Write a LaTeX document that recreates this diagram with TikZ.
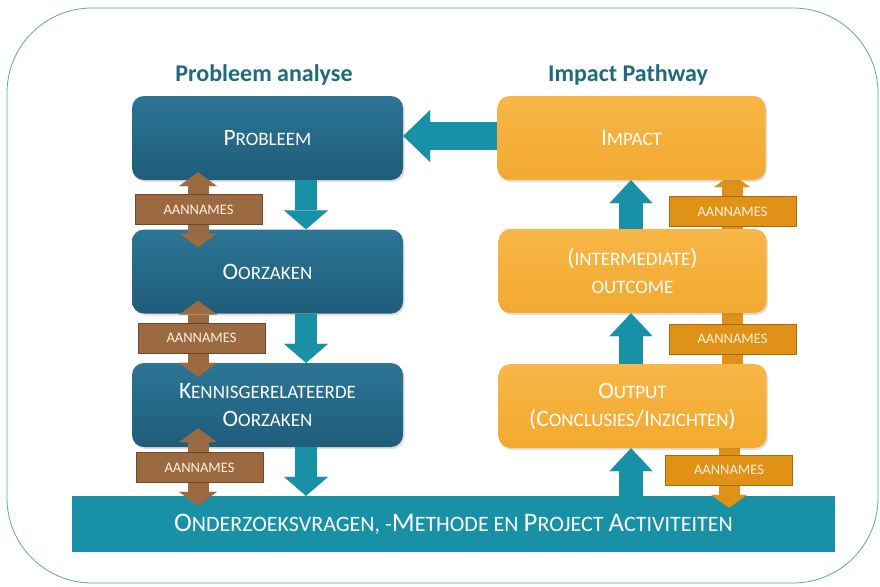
\documentclass[tikz,border=0pt]{standalone}
\usepackage{fontspec}
\setmainfont{Carlito}
\usetikzlibrary{arrows.meta,shadows,calc}
\definecolor{frameC}{HTML}{5BA99B}
\definecolor{titleC}{HTML}{1F6B7B}
\definecolor{blueTop}{HTML}{2C7596}
\definecolor{blueBot}{HTML}{1F5C7A}
\definecolor{orTop}{HTML}{F7B646}
\definecolor{orBot}{HTML}{F2AA30}
\definecolor{tealC}{HTML}{1890A5}
\definecolor{brownC}{HTML}{9B6A41}
\definecolor{brownD}{HTML}{6E4A2A}
\definecolor{orDark}{HTML}{DF9216}
\definecolor{orDarkD}{HTML}{A86A0C}
\definecolor{creamC}{HTML}{FFF1DD}
\newcommand\BL[1]{{\fontsize{23.5}{28}\selectfont #1}}
\newcommand\BB[1]{{\fontsize{26.8}{30}\selectfont #1}}
\pgfdeclarelayer{back}
\pgfdeclarelayer{mid}
\pgfsetlayers{back,mid,main}
\tikzset{
  titlestyle/.style={font=\bfseries\fontsize{24}{28}\selectfont, text=titleC, inner sep=0pt},
  boxbase/.style={rounded corners=12pt, minimum height=84pt, inner sep=0pt, align=center,
    text=white, font=\fontsize{19}{28}\selectfont,
    drop shadow={shadow xshift=1.5pt, shadow yshift=-2pt, opacity=0.25}},
  bluebox/.style={boxbase, minimum width=271pt, top color=blueTop, bottom color=blueBot},
  orbox/.style={boxbase, minimum width=268pt, top color=orTop, bottom color=orBot},
  barstyle/.style={fill=tealC, minimum width=763pt, minimum height=56pt, inner sep=0pt,
    text=white, font=\fontsize{22}{26}\selectfont},
  downarrow/.style={draw=tealC, line width=22pt, -{Triangle[width=44pt,length=19pt,line width=0.1pt]}},
  uparrow/.style={draw=tealC, line width=24pt, -{Triangle[width=43pt,length=23pt,line width=0.1pt]}},
  leftarrow/.style={draw=tealC, line width=28pt, -{Triangle[width=52pt,length=27pt,line width=0.1pt]}},
  brownarrow/.style={draw=brownC, line width=21pt,
    {Triangle[width=38pt,length=14pt,line width=0.1pt]}-{Triangle[width=38pt,length=14pt,line width=0.1pt]}},
  orshaft/.style={draw=orDark, line width=21pt},
  orarrow/.style={draw=orDark, line width=21pt, -{Triangle[width=36pt,length=13pt,line width=0.1pt]}},
  assume/.style={minimum width=127pt, minimum height=30pt, inner sep=0pt, line width=0.8pt,
    text=creamC, font=\fontsize{14.5}{17}\selectfont},
  brect/.style={assume, fill=brownC, draw=brownD},
  orect/.style={assume, fill=orDark, draw=orDarkD}
}
\begin{document}
\begin{tikzpicture}[x=1pt,y=-1pt]
\useasboundingbox (0,0) rectangle (880,586);
\begin{pgfonlayer}{back}
\draw[frameC, line width=0.8pt, fill=white, rounded corners=85pt] (7,8) rectangle (878,583);
\node[barstyle] (bar) at (453.5,524) {{\BB O}NDERZOEKSVRAGEN, -{\BB M}ETHODE EN {\BB P}ROJECT {\BB A}CTIVITEITEN};
\end{pgfonlayer}

\node[titlestyle] (t1) at (264,75) {Probleem analyse};
\node[titlestyle] (t2) at (628,75) {Impact Pathway};

% left column
\node[bluebox] (prob) at (267.5,138) {\BL{P}ROBLEEM};
\node[bluebox] (oorz) at (267.5,271.5) {\BL{O}ORZAKEN};
\node[bluebox] (kenn) at (267.5,405) {\BL{K}ENNISGERELATEERDE\\\BL{O}ORZAKEN};

% right column
\node[orbox] (impact) at (631.5,138) {\BL{I}MPACT};
\node[orbox] (inter) at (632.5,271) {\BL{(}INTERMEDIATE\BL{)}\\OUTCOME};
\node[orbox] (output) at (632.5,406) {\BL{O}UTPUT\\\BL{(C}ONCLUSIES\BL{/I}NZICHTEN\BL{)}};

\coordinate (bx) at (306,0);
\coordinate (ux) at (631,0);
\coordinate (brx) at (198,0);
\coordinate (ox) at (732,0);
\coordinate (ox3) at (729,0);

% orange assumption arrows (behind the orange boxes)
\begin{pgfonlayer}{mid}
\draw[orarrow] ($(ox |- inter.north)+(0,15)$) -- ($(ox |- impact.south)+(0,-6)$);
\draw[orshaft] ($(ox |- inter.south)+(0,-12)$) -- ($(ox |- output.north)+(0,12)$);
\draw[orarrow] ($(ox3 |- output.south)+(0,-12)$) -- ($(ox3 |- bar.north)+(0,12)$);
\end{pgfonlayer}

% teal flow arrows
\draw[downarrow] (bx |- prob.south) -- (bx |- oorz.north);
\draw[downarrow] (bx |- oorz.south) -- (bx |- kenn.north);
\draw[downarrow] (bx |- kenn.south) -- (bx |- bar.north);
\draw[uparrow] (ux |- bar.north) -- (ux |- output.south);
\draw[uparrow] (ux |- output.north) -- (ux |- inter.south);
\draw[uparrow] (ux |- inter.north) -- (ux |- impact.south);
\draw[leftarrow] ($(impact.west)+(0,-2)$) -- ($(prob.east)+(0,-2)$);

% brown assumption arrows
\draw[brownarrow] ($(brx |- prob.south)+(0,-8)$) -- ($(brx |- oorz.north)+(0,18)$);
\draw[brownarrow] ($(brx |- oorz.south)+(0,-13)$) -- ($(brx |- kenn.north)+(0,14)$);
\draw[brownarrow] ($(brx |- kenn.south)+(0,-19)$) -- ($(brx |- bar.north)+(0,10)$);

% assumption labels
\node[brect] (a1) at (198.5,209.5) {AANNAMES};
\node[brect] (a2) at (201.5,338) {AANNAMES};
\node[brect] (a3) at (199.5,467.5) {AANNAMES};
\node[orect] (o1) at (732.5,211.5) {AANNAMES};
\node[orect] (o2) at (732.5,339) {AANNAMES};
\node[orect] (o3) at (729,470) {AANNAMES};
\end{tikzpicture}
\end{document}
